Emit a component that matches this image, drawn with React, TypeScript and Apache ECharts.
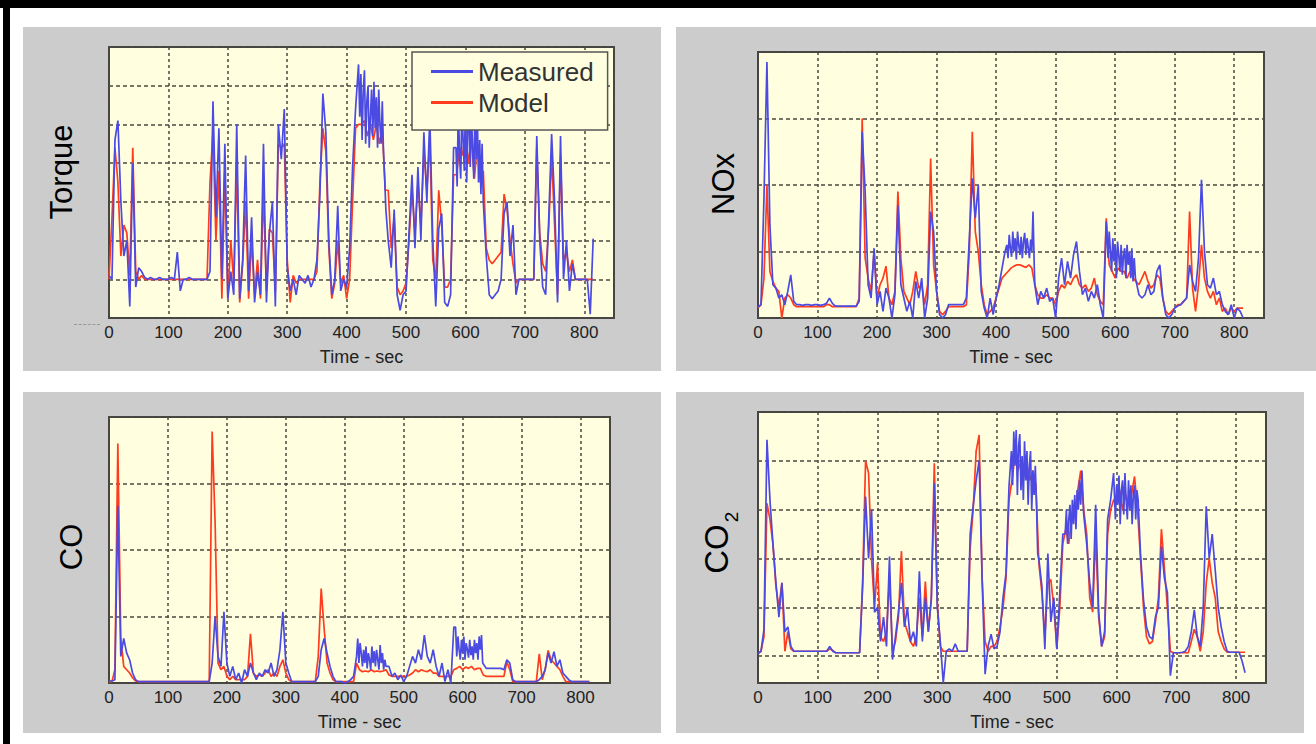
import React, { useEffect, useRef } from "react";
import * as echarts from "echarts";

// Base samples are taken every 5 seconds, starting at t = 0 s.
const SAMPLE_STEP = 5;
// Noisy stretches are read more finely, every 2 seconds.
const DENSE_STEP = 2;
const X_MAX = 850;
const X_INTERVAL = 100;

const TORQUE_MEASURED = [
  1.1, 1.0, 4.6, 5.1, 3.0, 1.6, 2.0, 0.3, 4.0, 0.8,
  1.3, 1.2, 1.05, 1.0, 1.05, 1.0, 1.0, 1.05, 1.0, 1.0,
  1.0, 1.05, 1.0, 1.7, 0.7, 1.0, 1.0, 1.05, 1.0, 1.0,
  1.0, 1.0, 1.0, 1.0, 1.2, 5.6, 2.6, 4.9, 1.0, 4.5,
  0.5, 1.2, 0.6, 5.0, 0.5, 1.5, 4.2, 0.7, 2.6, 0.4,
  1.2, 0.6, 4.5, 0.4, 2.2, 3.0, 0.3, 5.0, 4.1, 5.4,
  1.3, 0.7, 1.0, 0.6, 1.1, 1.0, 0.9, 1.1, 0.8, 1.0,
  1.5, 3.2, 5.8, 4.8, 2.0, 0.6, 1.0, 2.9, 0.7, 1.0,
  0.8, 1.8, 3.9, 5.4, 6.55, 4.6, 6.2, 4.5, 6.0, 4.4,
  5.9, 4.7, 5.6, 3.0, 2.0, 1.3, 2.8, 0.6, 0.2, 0.6,
  0.7, 2.2, 3.7, 1.8, 3.9, 2.0, 4.8, 3.0, 5.2, 2.0,
  0.3, 2.3, 2.7, 0.4, 0.3, 0.6, 4.4, 3.5, 5.6, 4.2,
  5.5, 3.8, 5.4, 4.3, 5.3, 3.5, 4.0, 1.6, 0.6, 0.5,
  0.6, 0.7, 1.0, 2.7, 3.0, 1.6, 2.4, 0.6, 1.0, 1.0,
  1.0, 1.0, 1.0, 1.0, 4.7, 2.0, 0.8, 0.6, 2.5, 4.75,
  3.0, 0.4, 4.7, 1.0, 2.0, 0.7, 1.4, 1.0, 1.0, 1.0,
  1.0, 1.0, 0.1, 2.05,
];
const TORQUE_MEASURED_FROM_420 = [
  6.55, 5.2, 6.3, 4.6, 5.9, 6.4, 4.5, 5.6, 6.0, 4.4, 5.2, 5.9,
  4.7, 6.1, 4.9, 5.7, 4.4, 5.9, 5.0, 4.5, 5.6, 4.3, 3.6, 2.8,
];
const TORQUE_MEASURED_FROM_584 = [
  4.4, 3.4, 5.6, 4.2, 3.6, 5.5, 4.6, 3.8, 5.6, 3.5, 4.8, 5.5,
  3.9, 5.3, 4.4, 3.6, 5.4, 4.1, 5.2, 3.5, 4.6, 3.2, 4.5, 3.0,
];
const TORQUE_MODEL = [
  1.0, 2.6, 4.4, 3.5, 1.6, 2.4, 2.2, 1.1, 4.4, 1.2,
  1.0, 1.1, 1.0, 1.0, 1.0, 1.0, 1.0, 1.0, 1.0, 1.0,
  1.0, 1.0, 1.0, 1.0, 1.0, 1.0, 1.0, 1.0, 1.0, 1.0,
  1.0, 1.0, 1.0, 1.0, 3.5, 4.8, 2.0, 3.8, 0.5, 3.8,
  0.5, 2.0, 0.9, 4.0, 0.4, 1.4, 3.0, 0.5, 2.0, 0.6,
  1.5, 0.5, 3.3, 0.7, 2.3, 2.2, 0.7, 4.5, 4.4, 4.5,
  1.5, 0.4, 1.1, 0.9, 1.0, 1.0, 1.0, 1.0, 1.0, 1.0,
  1.2, 3.5, 4.9, 4.3, 1.8, 0.5, 0.9, 2.0, 0.9, 1.1,
  0.5, 1.0, 3.0, 4.9, 5.0, 5.0, 5.1, 4.7, 5.0, 4.6,
  5.0, 4.5, 4.9, 3.3, 3.3, 1.8, 2.6, 0.8, 0.6, 0.7,
  0.9, 2.0, 3.3, 2.2, 3.5, 2.4, 4.3, 3.3, 4.6, 1.5,
  1.0, 3.3, 2.4, 0.8, 0.8, 1.0, 3.7, 3.7, 4.4, 4.2,
  4.8, 4.0, 4.6, 3.6, 4.5, 3.5, 3.8, 1.8, 1.5, 1.4,
  1.5, 1.6, 1.7, 3.2, 2.8, 2.0, 1.4, 0.9, 1.0, 1.0,
  1.0, 1.0, 1.0, 1.0, 4.4, 2.2, 1.4, 1.2, 2.3, 4.2,
  2.4, 0.6, 4.2, 1.5, 1.7, 1.2, 1.5, 1.0, 1.0, 1.0,
  1.0, 1.0, 1.0, 1.0,
];

const NOX_MEASURED = [
  0.17, 0.2, 1.8, 3.85, 1.4, 0.5, 0.45, 0.3, 0.35, 0.2,
  0.4, 0.65, 0.25, 0.2, 0.2, 0.19, 0.2, 0.2, 0.19, 0.2,
  0.2, 0.19, 0.2, 0.22, 0.3, 0.22, 0.18, 0.18, 0.18, 0.18,
  0.18, 0.18, 0.18, 0.18, 0.25, 2.8, 1.9, 0.5, 0.3, 1.05,
  0.2, 0.4, 0.1, 0.45, 0.3, 0.0, 0.35, 1.7, 0.5, 0.3,
  0.1, 0.25, 0.0, 0.55, 0.3, 0.6, 0.0, 0.3, 1.6, 1.3,
  0.4, 0.05, 0.0, 0.05, 0.2, 0.2, 0.2, 0.2, 0.2, 0.2,
  0.3, 1.2, 2.1, 1.5, 2.0, 0.4, 0.15, 0.0, 0.3, 0.05,
  0.3, 0.5, 0.75, 1.0, 1.15, 0.9, 1.3, 1.0, 1.25, 0.95,
  1.2, 0.9, 1.6, 0.5, 0.2, 0.4, 0.3, 0.45, 0.25, 0.3,
  0.0, 0.6, 0.9, 0.5, 0.85, 0.6, 0.95, 1.15, 0.7, 0.35,
  0.45, 0.25, 0.4, 0.3, 0.5, 0.2, 0.0, 1.45, 0.9, 1.3,
  0.8, 1.1, 0.6, 1.1, 0.7, 1.05, 0.55, 0.6, 0.35, 0.3,
  0.35, 0.5, 0.35, 0.4, 0.7, 0.8, 0.3, 0.05, 0.0, 0.05,
  0.15, 0.18, 0.2, 0.25, 0.3, 0.8, 0.55, 0.4, 0.9, 2.08,
  1.0, 0.5, 0.45, 0.6, 0.35, 0.4, 0.2, 0.1, 0.05, 0.2,
  0.0, 0.15, 0.1, 0.0,
];
const NOX_MEASURED_FROM_418 = [
  1.1, 0.9, 1.25, 1.05, 0.92, 1.3, 1.0, 1.2, 0.88, 1.3, 1.1, 0.95,
  1.22, 0.9, 1.15, 1.28, 0.95, 1.2, 1.05, 0.9, 1.18, 1.0, 1.6, 0.8,
];
const NOX_MEASURED_FROM_586 = [
  1.45, 0.9, 1.3, 1.0, 0.7, 1.2, 0.85, 1.1, 0.6, 1.15, 0.95, 0.7, 1.1,
  0.65, 0.95, 1.05, 0.6, 1.1, 0.8, 1.0, 0.6, 1.05, 0.55, 0.9, 0.6,
];
const NOX_MODEL = [
  0.15, 0.2, 0.6, 2.0, 0.7, 0.55, 0.45, 0.4, 0.0, 0.3,
  0.35, 0.3, 0.2, 0.17, 0.17, 0.17, 0.17, 0.17, 0.17, 0.17,
  0.17, 0.17, 0.17, 0.2, 0.2, 0.17, 0.17, 0.17, 0.17, 0.17,
  0.17, 0.17, 0.17, 0.17, 0.3, 3.0, 0.9, 0.6, 0.4, 1.0,
  0.3, 0.5, 0.6, 0.78, 0.3, 0.2, 0.4, 1.9, 0.9, 0.4,
  0.3, 0.2, 0.4, 0.7, 0.45, 0.5, 0.2, 0.5, 2.4, 0.8,
  0.4, 0.1, 0.05, 0.1, 0.17, 0.17, 0.17, 0.17, 0.17, 0.17,
  0.2, 1.0, 2.8, 1.3, 1.0, 0.5, 0.2, 0.05, 0.1, 0.15,
  0.3, 0.45, 0.6, 0.65, 0.7, 0.75, 0.78, 0.8, 0.8, 0.78,
  0.76, 0.8, 0.75, 0.5, 0.35, 0.3, 0.3, 0.35, 0.3, 0.3,
  0.2, 0.4, 0.5, 0.45, 0.55, 0.5, 0.6, 0.65, 0.5, 0.45,
  0.5, 0.4, 0.45, 0.6, 0.35, 0.25, 0.2, 1.5, 0.8, 0.7,
  0.6, 0.75, 0.7, 0.7, 0.6, 0.7, 0.6, 0.55, 0.5, 0.6,
  0.7, 0.55, 0.45, 0.5, 0.65, 0.6, 0.3, 0.1, 0.05, 0.1,
  0.15, 0.2, 0.2, 0.25, 0.3, 1.6, 0.45, 0.1, 0.5, 1.1,
  0.6, 0.4, 0.3, 0.4, 0.2, 0.3, 0.1, 0.15, 0.05, 0.15,
  0.1, 0.15, 0.15, 0.15,
];

const CO_MEASURED = [
  0.03, 0.03, 0.05, 2.67, 0.4, 0.67, 0.45, 0.35, 0.15, 0.05,
  0.02, 0.02, 0.02, 0.02, 0.02, 0.02, 0.02, 0.02, 0.02, 0.02,
  0.02, 0.02, 0.02, 0.02, 0.02, 0.02, 0.02, 0.02, 0.02, 0.02,
  0.02, 0.02, 0.02, 0.02, 0.02, 0.3, 1.0, 0.4, 0.25, 1.07,
  0.3, 0.1, 0.25, 0.05, 0.15, 0.0, 0.2, 0.1, 0.3, 0.15,
  0.05, 0.15, 0.1, 0.2, 0.15, 0.3, 0.1, 0.2, 0.5, 1.07,
  0.3, 0.15, 0.02, 0.02, 0.02, 0.02, 0.02, 0.02, 0.02, 0.02,
  0.02, 0.1, 0.5, 0.67, 0.45, 0.25, 0.1, 0.02, 0.02, 0.02,
  0.0, 0.02, 0.05, 0.1, 0.4, 0.67, 0.3, 0.45, 0.25, 0.5,
  0.3, 0.55, 0.3, 0.57, 0.2, 0.25, 0.1, 0.15, 0.05, 0.12,
  0.02, 0.1, 0.25, 0.4, 0.3, 0.5, 0.35, 0.72, 0.4, 0.3,
  0.5, 0.25, 0.1, 0.3, 0.02, 0.2, 0.0, 0.84, 0.4, 0.6,
  0.35, 0.65, 0.4, 0.6, 0.35, 0.55, 0.72, 0.3, 0.22, 0.22,
  0.22, 0.22, 0.22, 0.22, 0.2, 0.35, 0.3, 0.05, 0.02, 0.02,
  0.02, 0.02, 0.02, 0.02, 0.02, 0.02, 0.05, 0.1, 0.2, 0.45,
  0.3, 0.47, 0.25, 0.35, 0.15, 0.1, 0.05, 0.02, 0.02, 0.02,
  0.02, 0.02, 0.02, 0.02,
];
const CO_MEASURED_FROM_422 = [
  0.67, 0.3, 0.6, 0.45, 0.25, 0.5, 0.3, 0.55, 0.22, 0.45, 0.35, 0.2, 0.55,
  0.3, 0.48, 0.25, 0.5, 0.35, 0.2, 0.57, 0.3, 0.45, 0.2, 0.35, 0.25,
];
const CO_MEASURED_FROM_588 = [
  0.84, 0.4, 0.7, 0.5, 0.35, 0.65, 0.45, 0.7, 0.35, 0.6, 0.5, 0.38,
  0.65, 0.42, 0.55, 0.35, 0.65, 0.45, 0.6, 0.35, 0.7, 0.5, 0.72, 0.3,
];
const CO_MODEL = [
  0.02, 0.02, 0.2, 3.6, 0.67, 0.25, 0.2, 0.15, 0.08, 0.03,
  0.02, 0.02, 0.02, 0.02, 0.02, 0.02, 0.02, 0.02, 0.02, 0.02,
  0.02, 0.02, 0.02, 0.02, 0.02, 0.02, 0.02, 0.02, 0.02, 0.02,
  0.02, 0.02, 0.02, 0.02, 0.02, 3.78, 2.42, 0.3, 0.2, 0.25,
  0.1, 0.05, 0.1, 0.05, 0.05, 0.05, 0.05, 0.1, 0.74, 0.15,
  0.1, 0.12, 0.1, 0.15, 0.2, 0.1, 0.15, 0.1, 0.25, 0.35,
  0.15, 0.05, 0.02, 0.02, 0.02, 0.02, 0.02, 0.02, 0.02, 0.02,
  0.02, 0.4, 1.42, 0.82, 0.3, 0.15, 0.05, 0.02, 0.02, 0.02,
  0.02, 0.02, 0.02, 0.02, 0.3, 0.2, 0.17, 0.18, 0.17, 0.2,
  0.17, 0.18, 0.17, 0.18, 0.2, 0.12, 0.1, 0.1, 0.1, 0.1,
  0.1, 0.1, 0.12, 0.15, 0.2, 0.17, 0.2, 0.18, 0.17, 0.2,
  0.15, 0.15, 0.1, 0.1, 0.1, 0.1, 0.1, 0.2, 0.22, 0.25,
  0.2, 0.24, 0.22, 0.25, 0.2, 0.22, 0.22, 0.12, 0.1, 0.1,
  0.1, 0.1, 0.1, 0.1, 0.1, 0.32, 0.2, 0.02, 0.02, 0.02,
  0.02, 0.02, 0.02, 0.02, 0.02, 0.02, 0.44, 0.05, 0.2, 0.49,
  0.35, 0.3, 0.25, 0.2, 0.1, 0.02, 0.02, 0.02, 0.02, 0.02,
  0.02, 0.02, 0.02, 0.02,
];

const CO2_MEASURED = [
  0.05, 0.1, 0.55, 4.43, 3.2, 2.3, 1.5, 0.8, 1.5, 0.5,
  0.6, 0.2, 0.1, 0.1, 0.1, 0.1, 0.1, 0.1, 0.1, 0.1,
  0.1, 0.1, 0.1, 0.1, 0.2, 0.1, 0.07, 0.07, 0.07, 0.07,
  0.07, 0.07, 0.07, 0.07, 0.07, 1.4, 3.27, 2.0, 3.0, 0.9,
  1.0, 0.3, 0.8, 0.2, 2.04, -0.07, 0.4, 0.9, 1.5, 0.6,
  1.0, 0.3, 0.5, 0.2, 1.74, 0.3, 1.2, 0.5, 1.16, 3.54,
  1.0, 0.3, -0.55, 0.1, 0.15, 0.1, 0.25, 0.1, 0.1, 0.1,
  0.1, 2.5, 3.07, 3.6, 4.0, 1.57, -0.37, 0.2, 0.45, 0.15,
  0.2, 0.5, 1.2, 1.7, 3.48, 4.4, 4.63, 3.2, 4.55, 3.1,
  4.3, 3.0, 4.0, 3.0, 1.98, 1.43, 0.14, 2.1, 0.7, 1.2,
  0.14, 1.3, 2.5, 3.0, 2.4, 3.1, 2.7, 3.5, 3.8, 2.9,
  2.3, 1.5, 1.0, 3.1, 0.9, 0.2, 0.5, 2.8, 3.2, 3.75,
  2.7, 3.7, 2.8, 3.7, 2.75, 3.6, 2.9, 3.2, 2.1, 1.16,
  0.6, 0.4, 0.35, 0.8, 1.0, 2.25, 1.6, 1.3, -0.4, 0.07,
  0.07, 0.07, 0.08, 0.1, 0.2, 0.5, 0.95, 0.4, 0.2, 1.0,
  3.07, 2.0, 2.5, 1.77, 1.0, 0.6, 0.3, 0.1, 0.08, 0.08,
  0.08, 0.08, -0.1, -0.34,
];
const CO2_MEASURED_FROM_424 = [
  4.2, 3.5, 4.6, 3.9, 4.63, 3.3, 4.3, 4.55, 3.4, 4.1, 3.2, 4.4,
  3.6, 4.2, 3.1, 3.9, 4.2, 3.0, 3.8, 3.3, 3.9, 3.1, 2.1,
];
const CO2_MEASURED_FROM_514 = [
  2.5, 3.0, 2.3, 2.8, 3.1, 2.4, 3.2, 2.7, 3.3, 2.6, 3.4, 3.0, 3.6, 3.1, 3.8, 3.2,
];
const CO2_MEASURED_FROM_596 = [
  3.75, 2.8, 3.5, 3.1, 3.7, 2.7, 3.4, 3.6, 2.9, 3.75, 3.2,
  2.8, 3.6, 3.0, 3.5, 2.7, 3.3, 3.5, 2.8, 3.4, 3.2,
];
const CO2_MODEL = [
  0.05, 0.1, 0.4, 3.13, 2.8, 2.3, 1.43, 1.0, 1.5, 0.1,
  0.5, 0.15, 0.1, 0.1, 0.1, 0.1, 0.1, 0.1, 0.1, 0.1,
  0.1, 0.1, 0.1, 0.1, 0.15, 0.12, 0.07, 0.07, 0.07, 0.07,
  0.07, 0.07, 0.07, 0.07, 0.07, 1.5, 4.0, 3.75, 1.98, 1.0,
  1.9, 0.4, 0.3, 0.5, 1.6, 0.1, 0.3, 0.8, 2.15, 0.7,
  0.5, 0.3, 0.2, 0.4, 1.2, 0.4, 1.53, 0.5, 1.2, 3.95,
  1.1, 0.2, 0.1, 0.1, 0.1, 0.1, 0.1, 0.1, 0.1, 0.1,
  0.1, 2.2, 3.0, 4.2, 4.53, 1.6, 0.3, 0.1, 0.2, 0.2,
  0.3, 0.6, 1.0, 1.6, 3.2, 3.6, 4.1, 3.8, 4.0, 3.7,
  3.9, 3.6, 3.8, 3.5, 1.9, 1.3, 0.4, 1.5, 1.57, 1.0,
  0.17, 1.0, 2.3, 2.6, 2.3, 2.9, 2.9, 3.4, 3.8, 3.0,
  2.5, 1.2, 0.9, 2.5, 0.8, 0.2, 0.4, 2.5, 3.0, 3.2,
  3.2, 3.4, 3.0, 3.3, 3.1, 3.3, 3.68, 3.0, 2.0, 1.0,
  0.4, 0.25, 0.3, 0.7, 1.2, 2.6, 1.8, 1.0, 0.1, 0.07,
  0.07, 0.07, 0.07, 0.07, 0.07, 0.3, 0.55, 0.4, 0.1, 0.5,
  1.5, 2.0, 1.5, 1.2, 0.5, 0.3, 0.15, 0.08, 0.08, 0.08,
  0.08, 0.08, 0.08, 0.08,
];

const SERIES_NAMES = ["Measured", "Model"];
const X_NAME = "Time - sec";

const FONT = "'Liberation Sans', Arial, Helvetica, sans-serif";
const BLUE = "#4b4be3";
const RED = "#ff3c1e";
const GRID_LINE = "#4a4a40";

const GRIDS = [
  { left: 109, top: 47, width: 505, height: 271 },
  { left: 758, top: 52, width: 506, height: 266 },
  { left: 109, top: 417, width: 501, height: 266 },
  { left: 758, top: 412, width: 508, height: 271 },
];

const Y_RANGES = [
  { min: 0, max: 7, interval: 1 },
  { min: 0, max: 4, interval: 1 },
  { min: 0, max: 4, interval: 1 },
  { min: -0.55, max: 5 },
];

type Dense = { start: number; values: number[] };

const PANELS: { measured: number[]; measuredDense: Dense[]; model: number[] }[] = [
  {
    measured: TORQUE_MEASURED,
    measuredDense: [
      { start: 420, values: TORQUE_MEASURED_FROM_420 },
      { start: 584, values: TORQUE_MEASURED_FROM_584 },
    ],
    model: TORQUE_MODEL,
  },
  {
    measured: NOX_MEASURED,
    measuredDense: [
      { start: 418, values: NOX_MEASURED_FROM_418 },
      { start: 586, values: NOX_MEASURED_FROM_586 },
    ],
    model: NOX_MODEL,
  },
  {
    measured: CO_MEASURED,
    measuredDense: [
      { start: 422, values: CO_MEASURED_FROM_422 },
      { start: 588, values: CO_MEASURED_FROM_588 },
    ],
    model: CO_MODEL,
  },
  {
    measured: CO2_MEASURED,
    measuredDense: [
      { start: 424, values: CO2_MEASURED_FROM_424 },
      { start: 514, values: CO2_MEASURED_FROM_514 },
      { start: 596, values: CO2_MEASURED_FROM_596 },
    ],
    model: CO2_MODEL,
  },
];

function toPoints(values: number[], dense: Dense[] = []) {
  const pts: number[][] = [];
  values.forEach((v, i) => {
    const t = i * SAMPLE_STEP;
    const covered = dense.some(
      (d) => t >= d.start && t <= d.start + DENSE_STEP * (d.values.length - 1)
    );
    if (!covered) pts.push([t, v]);
  });
  dense.forEach((d) => d.values.forEach((v, j) => pts.push([d.start + j * DENSE_STEP, v])));
  pts.sort((a, b) => a[0] - b[0]);
  return pts;
}

export default function App() {
  const ref = useRef<HTMLDivElement>(null);

  useEffect(() => {
    if (!ref.current) return;
    const chart = echarts.init(ref.current, null, { renderer: "svg" });

    const xAxes = GRIDS.map((_, gi) => ({
      type: "value",
      gridIndex: gi,
      min: 0,
      max: X_MAX,
      interval: X_INTERVAL,
      name: X_NAME,
      nameLocation: "middle",
      nameGap: 30,
      nameTextStyle: { fontFamily: FONT, fontSize: 18, color: "#222" },
      axisLine: { show: false },
      axisTick: { show: false },
      axisLabel: {
        fontFamily: FONT,
        fontSize: 17,
        color: "#222",
        margin: 6,
        showMaxLabel: false,
      },
      splitLine: {
        show: true,
        lineStyle: { color: GRID_LINE, width: 1.5, type: [3, 3] },
      },
    }));

    const yAxes = GRIDS.map((_, gi) => ({
      type: "value",
      gridIndex: gi,
      ...Y_RANGES[gi],
      axisLine: { show: false },
      axisTick: { show: false },
      axisLabel: { show: false },
      splitLine: {
        show: true,
        lineStyle: { color: GRID_LINE, width: 1.5, type: [4, 3] },
      },
    }));

    const series: any[] = [];
    PANELS.forEach((p, gi) => {
      series.push({
        name: SERIES_NAMES[1],
        type: "line",
        xAxisIndex: gi,
        yAxisIndex: gi,
        data: toPoints(p.model),
        symbol: "none",
        showSymbol: false,
        lineStyle: { color: RED, width: 1.7 },
        itemStyle: { color: RED },
        silent: true,
      });
      series.push({
        name: SERIES_NAMES[0],
        type: "line",
        xAxisIndex: gi,
        yAxisIndex: gi,
        data: toPoints(p.measured, p.measuredDense),
        symbol: "none",
        showSymbol: false,
        lineStyle: { color: BLUE, width: 1.7 },
        itemStyle: { color: BLUE },
        silent: true,
      });
    });

    const yName = (text: string, x: number, y: number, size: number) => ({
      type: "text",
      x,
      y,
      rotation: Math.PI / 2,
      style: {
        text,
        fontFamily: FONT,
        fontSize: size,
        fill: "#000",
        align: "center",
        verticalAlign: "middle",
        textAlign: "center",
        textVerticalAlign: "middle",
      },
    });

    chart.setOption({
      animation: false,
      backgroundColor: "transparent",
      grid: GRIDS.map((g) => ({
        ...g,
        show: true,
        backgroundColor: "#ffffe0",
        borderColor: "#444",
        borderWidth: 2,
      })),
      xAxis: xAxes,
      yAxis: yAxes,
      legend: {
        orient: "vertical",
        left: 412,
        top: 52,
        padding: [6, 14, 14, 19],
        itemGap: 4,
        itemWidth: 42,
        itemHeight: 3,
        backgroundColor: "#ffffe0",
        borderColor: "#555",
        borderWidth: 1.5,
        borderRadius: 0,
        selectedMode: false,
        textStyle: { fontFamily: FONT, fontSize: 26, color: "#333", lineHeight: 27 },
        data: [
          { name: SERIES_NAMES[0], icon: "rect" },
          { name: SERIES_NAMES[1], icon: "rect" },
        ],
      },
      graphic: [
        yName("Torque", 61, 172, 31),
        yName("NOx", 723, 184, 31),
        yName("CO", 71, 547, 31),
        yName("CO", 716, 549, 33),
        yName("2", 731, 517, 19),
      ],
      series,
    });

    return () => chart.dispose();
  }, []);

  const box = (left: number, top: number, width: number, height: number, bg: string) => (
    <div style={{ position: "absolute", left, top, width, height, background: bg }} />
  );

  return (
    <div
      style={{
        position: "absolute",
        left: 0,
        top: 0,
        width: 1316,
        height: 744,
        background: "#ffffff",
        overflow: "hidden",
      }}
    >
      {box(0, 0, 1316, 8, "#000")}
      {box(3, 0, 7, 744, "#000")}
      {box(23, 27, 638, 344, "#cccccc")}
      {box(676, 27, 640, 344, "#cccccc")}
      {box(23, 392, 638, 341, "#cccccc")}
      {box(676, 392, 628, 341, "#cccccc")}
      <div
        style={{
          position: "absolute",
          left: 74,
          top: 324,
          width: 26,
          height: 0,
          borderTop: "1px dashed #999",
        }}
      />
      <div ref={ref} style={{ position: "absolute", left: 0, top: 0, width: 1316, height: 744 }} />
    </div>
  );
}
